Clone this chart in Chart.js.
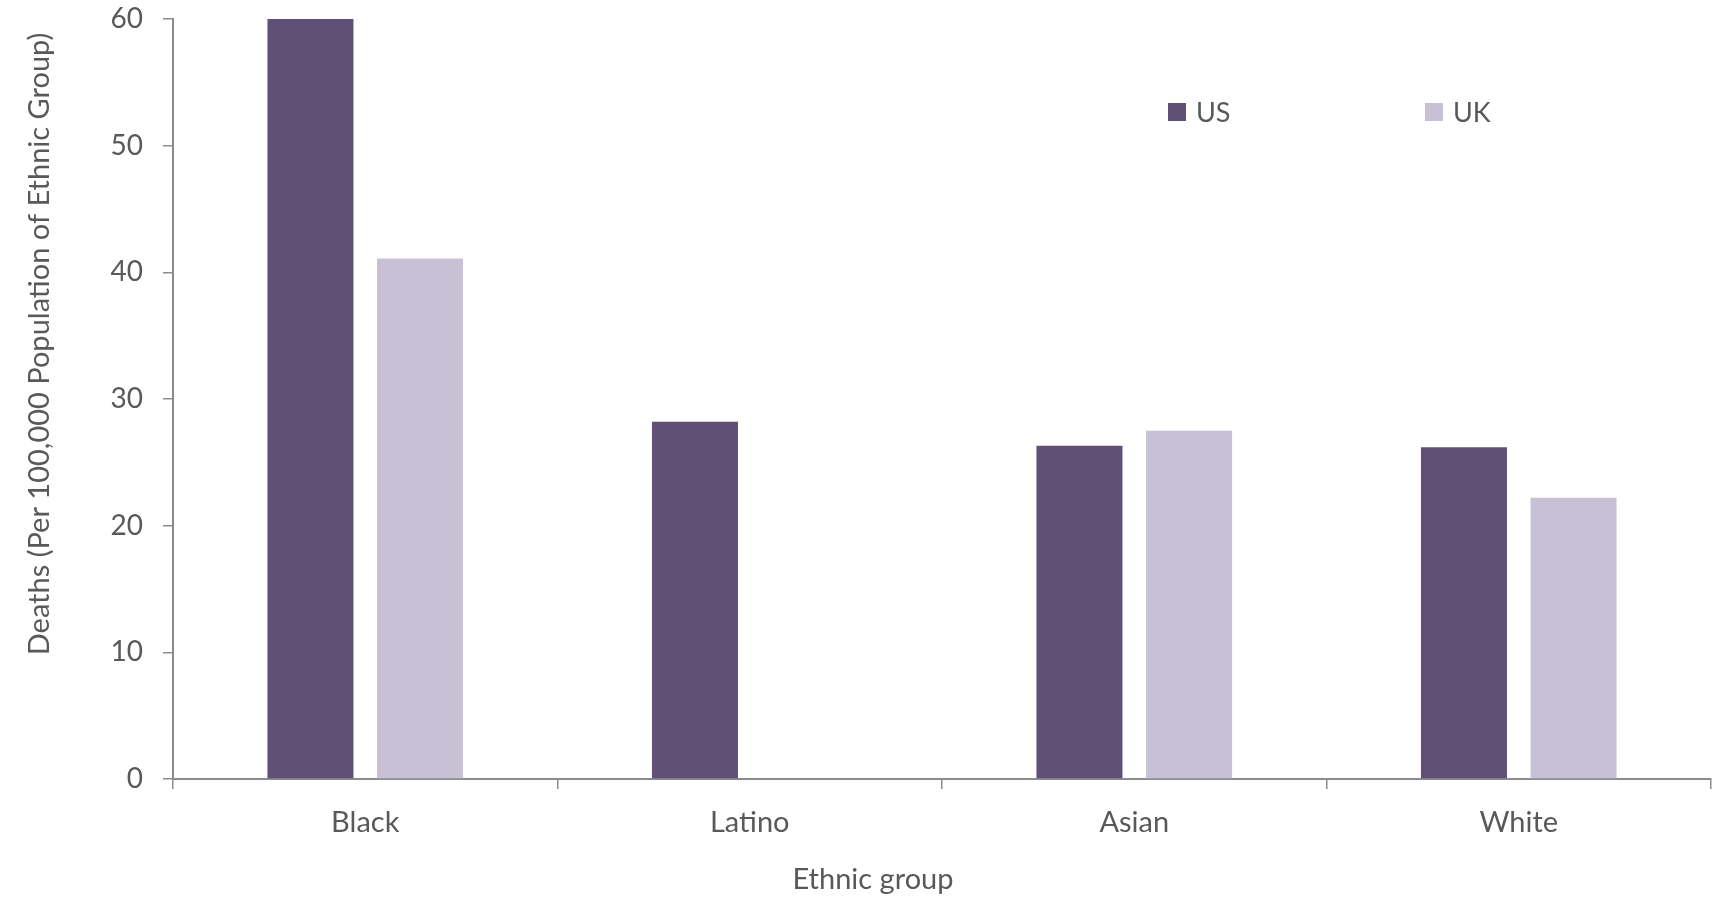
<!DOCTYPE html>
<html>
<head>
<meta charset="utf-8">
<script src="https://cdn.jsdelivr.net/npm/chart.js@4"></script>
<style>
  html, body { margin: 0; padding: 0; background: #ffffff; }
  #wrap { width: 1726px; height: 898px; }
</style>
</head>
<body>
<div id="wrap"><canvas id="c" width="1726" height="898"></canvas></div>
<script>
// Death rates per 100,000 people of each ethnic group
const categories = ['Black', 'Latino', 'Asian', 'White'];
const usDeaths = [60, 28.2, 26.3, 26.2];
const ukDeaths = [41.1, null, 27.5, 22.2];
const yTicks = [0, 10, 20, 30, 40, 50, 60];
const xTitle = 'Ethnic group';
const yTitle = 'Deaths (Per 100,000 Population of Ethnic Group)';

const FONT = 'Lato, "Open Sans", sans-serif';
const TEXT = '#595959';
const AXIS = '#8c8c8c';

// Axis titles and legend, placed in the open space of the plot
const annotations = {
  id: 'annotations',
  afterDraw(chart) {
    const ctx = chart.ctx;
    ctx.save();
    ctx.fillStyle = TEXT;
    ctx.font = '29px ' + FONT;
    ctx.textAlign = 'center';
    ctx.textBaseline = 'middle';
    ctx.fillText(xTitle, 873, 880);
    ctx.save();
    ctx.translate(40, 344);
    ctx.rotate(-Math.PI / 2);
    ctx.fillText(yTitle, 0, 0);
    ctx.restore();

    ctx.font = '27px ' + FONT;
    const legendX = [1168, 1425];
    chart.data.datasets.forEach((ds, i) => {
      const x = legendX[i];
      ctx.fillStyle = ds.backgroundColor;
      ctx.fillRect(x, 103, 18, 18);
      ctx.fillStyle = TEXT;
      ctx.textAlign = 'left';
      ctx.fillText(ds.label, x + 28, 113);
    });
    ctx.restore();
  }
};

new Chart(document.getElementById('c'), {
  type: 'bar',
  data: {
    labels: categories,
    datasets: [
      { label: 'US', data: usDeaths, backgroundColor: '#605078' },
      { label: 'UK', data: ukDeaths, backgroundColor: '#c8c1d6' }
    ]
  },
  options: {
    responsive: false,
    animation: false,
    devicePixelRatio: 1,
    layout: { padding: { top: 19, right: 15, bottom: 0, left: 0 } },
    categoryPercentage: 0.57,
    barPercentage: 0.785,
    plugins: {
      legend: { display: false },
      tooltip: { enabled: false }
    },
    scales: {
      x: {
        afterFit(scale) { scale.height = 119; },
        grid: {
          drawOnChartArea: false,
          drawTicks: true,
          tickLength: 10,
          color: AXIS,
          lineWidth: 1.5,
          offset: true
        },
        border: { display: true, color: AXIS, width: 2 },
        ticks: {
          color: TEXT,
          font: { family: FONT, size: 29 },
          padding: 16
        }
      },
      y: {
        min: 0,
        max: 60,
        afterFit(scale) {
          scale.width = 173;
          scale.paddingTop = 0;
          scale.paddingBottom = 0;
        },
        afterBuildTicks(scale) { scale.ticks = yTicks.map(v => ({ value: v })); },
        grid: {
          drawOnChartArea: false,
          drawTicks: true,
          tickLength: 10,
          color: AXIS,
          lineWidth: 1.5
        },
        border: { display: true, color: AXIS, width: 2 },
        ticks: {
          color: TEXT,
          font: { family: FONT, size: 28 },
          padding: 20
        }
      }
    }
  },
  plugins: [annotations]
});
</script>
</body>
</html>
